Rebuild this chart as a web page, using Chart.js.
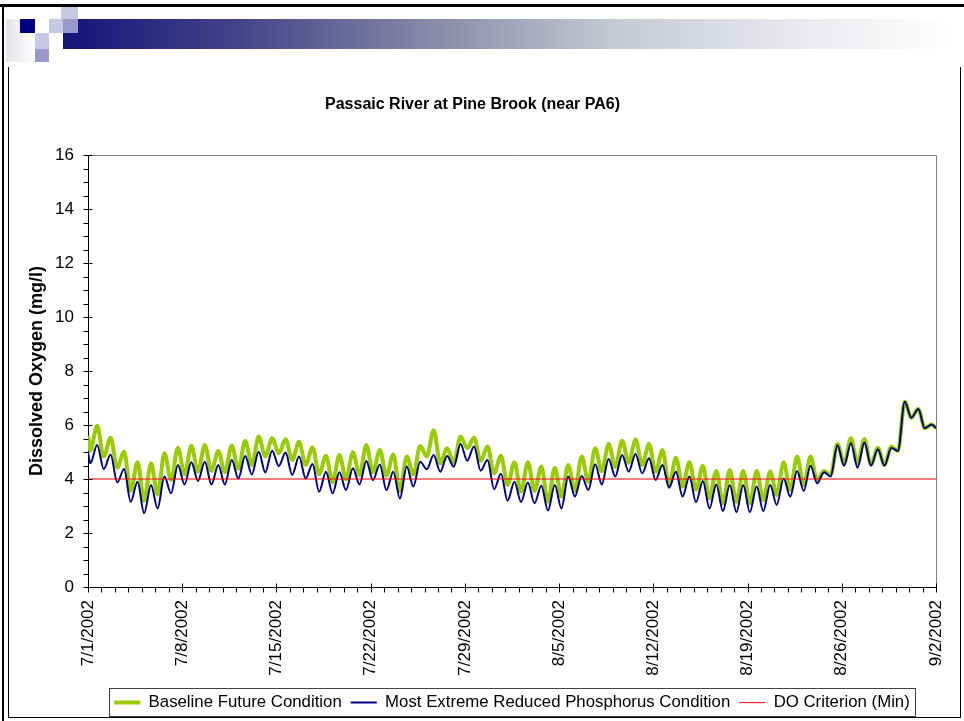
<!DOCTYPE html>
<html>
<head>
<meta charset="utf-8">
<script src="https://cdn.jsdelivr.net/npm/chart.js@4.4.0/dist/chart.umd.min.js"></script>
<style>
  html, body { margin: 0; padding: 0; background: #fff; overflow: hidden; }
  body { width: 964px; height: 721px; position: relative; font-family: "Liberation Sans", Arial, sans-serif; }
  .blk { position: absolute; background: #000; }
  .sq { position: absolute; }
  .bar {
    position: absolute; left: 63px; top: 19px; width: 887px; height: 30px;
    background: linear-gradient(to right, #14147a 0%, #44448a 20%, #8a8aa8 42%, #c5c9d3 62%, #e9e9ef 83%, #ffffff 100%);
  }
  .frame {
    position: absolute; left: 8px; top: 67px; width: 951px; height: 650px;
    border-left: 1px solid #000; border-right: 1px solid #000; border-bottom: 1px solid #000;
    pointer-events: none;
  }
  #wrap { position: absolute; left: 9px; top: 68px; width: 950px; height: 653px; }
</style>
</head>
<body>
<div class="blk" style="left:0;top:4px;width:964px;height:3px"></div>
<div class="blk" style="left:2px;top:4px;width:2px;height:717px"></div>
<div class="sq" style="left:6px;top:19px;width:29px;height:43px;background:linear-gradient(to right,#e2e2ea,#ffffff)"></div>
<div class="bar"></div>
<div class="sq" style="left:61px;top:7px;width:17px;height:12px;background:#c8c8e4"></div>
<div class="sq" style="left:20px;top:19px;width:15px;height:14px;background:#000080"></div>
<div class="sq" style="left:49px;top:19px;width:14px;height:14px;background:#c8c8e4"></div>
<div class="sq" style="left:63px;top:19px;width:15px;height:14px;background:#9999cc"></div>
<div class="sq" style="left:35px;top:33px;width:14px;height:16px;background:#c8c8e4"></div>
<div class="sq" style="left:35px;top:49px;width:14px;height:13px;background:#9999cc"></div>
<div id="wrap"><canvas id="grafico" width="950" height="653"></canvas></div>
<div class="frame"></div>
<script>
// days since 7/1/2002; each day has a morning low and an afternoon high
const totalDays = 63;
const lowTime = 0.17;
const highTime = 0.68;
const dateLabels = ["7/1/2002", "7/8/2002", "7/15/2002", "7/22/2002", "7/29/2002", "8/5/2002", "8/12/2002", "8/19/2002", "8/26/2002", "9/2/2002"];

const baseStart = 5.6;
const baseEnd = 5.88;
const baseLow = [5.05, 4.83, 4.42, 3.56, 3.19, 3.43, 3.96, 4.17, 4.27, 4.30, 4.25, 4.37, 4.52, 4.83, 4.95, 4.71, 4.52, 4.17, 3.88, 3.99, 4.15, 4.25, 4.12, 3.56, 4.17, 4.83, 4.58, 4.6, 5.14, 4.67, 4.21, 3.78, 3.53, 3.56, 3.16, 3.35, 3.56, 3.9, 4.28, 4.44, 4.6, 4.52, 4.27, 3.78, 3.72, 3.6, 3.28, 3.1, 3.16, 3.1, 3.22, 3.41, 3.6, 3.78, 3.96, 4.15, 4.58, 4.58, 4.54, 4.52, 5.04, 6.27, 5.88];
const baseHigh = [5.97, 5.53, 5.01, 4.62, 4.58, 4.95, 5.16, 5.23, 5.26, 5.04, 5.23, 5.41, 5.57, 5.51, 5.47, 5.38, 5.17, 4.86, 4.89, 4.99, 5.26, 5.07, 4.91, 4.83, 5.22, 5.81, 5.14, 5.57, 5.53, 5.2, 4.86, 4.62, 4.62, 4.46, 4.42, 4.52, 4.83, 5.14, 5.3, 5.42, 5.46, 5.3, 5.07, 4.79, 4.62, 4.49, 4.3, 4.33, 4.3, 4.3, 4.28, 4.62, 4.83, 4.83, 4.3, 5.3, 5.51, 5.48, 5.16, 5.2, 6.86, 6.59, 6.02];

const reducedStart = 5.0;
const reducedEnd = 5.88;
const reducedLow = [4.58, 4.37, 3.87, 3.16, 2.73, 2.91, 3.47, 3.8, 3.93, 3.8, 3.8, 4.02, 4.17, 4.25, 4.48, 4.15, 4.02, 3.53, 3.47, 3.59, 3.8, 3.96, 3.59, 3.28, 3.72, 4.36, 4.27, 4.45, 4.68, 4.31, 3.62, 3.2, 3.15, 3.1, 2.83, 2.91, 3.35, 3.59, 3.8, 4.09, 4.27, 4.21, 3.96, 3.68, 3.35, 3.14, 2.91, 2.81, 2.77, 2.77, 2.81, 3.04, 3.35, 3.56, 3.84, 4.09, 4.49, 4.42, 4.5, 4.5, 5.04, 6.27, 5.88];
const reducedHigh = [5.26, 4.91, 4.37, 3.9, 3.78, 4.09, 4.52, 4.62, 4.64, 4.52, 4.7, 4.85, 5.01, 5.05, 4.98, 4.83, 4.56, 4.27, 4.25, 4.4, 4.67, 4.54, 4.27, 4.46, 4.64, 4.89, 4.85, 5.3, 5.2, 4.7, 4.19, 3.9, 3.87, 3.75, 3.78, 4.09, 4.11, 4.55, 4.74, 4.89, 4.93, 4.77, 4.52, 4.27, 4.09, 3.93, 3.8, 3.78, 3.78, 3.72, 3.78, 4.02, 4.3, 4.49, 4.25, 5.25, 5.32, 5.35, 5.1, 5.15, 6.86, 6.59, 6.02];

const criterionDays = [0, 63];
const criterionValues = [4, 4];

const yMax = 16;
const yStep = 2;
const yMinor = 0.5;
const xStep = 7;

const fonte = "'Liberation Sans', Arial, sans-serif";

function series(start, lows, highs, end) {
  const points = [{ x: 0, y: start }];
  lows.forEach((v, i) => {
    points.push({ x: i + lowTime, y: v });
    points.push({ x: i + highTime, y: highs[i] });
  });
  points.push({ x: totalDays, y: end });
  return points;
}

// excel-like tick marks and gray plot frame
const axisTicks = {
  id: "axisTicks",
  afterDraw(chart) {
    const { ctx, chartArea, scales } = chart;
    const x = scales.x;
    const y = scales.y;
    const left = Math.round(chartArea.left) + 0.5;
    const bottom = Math.round(chartArea.bottom) + 0.5;
    ctx.save();
    ctx.lineWidth = 1;
    ctx.strokeStyle = "#808080";
    ctx.beginPath();
    ctx.moveTo(left, Math.round(chartArea.top) + 0.5);
    ctx.lineTo(Math.round(chartArea.right) + 0.5, Math.round(chartArea.top) + 0.5);
    ctx.lineTo(Math.round(chartArea.right) + 0.5, bottom);
    ctx.stroke();

    ctx.strokeStyle = "#000";
    ctx.beginPath();
    for (let v = 0; v <= yMax; v += yMinor) {
      const py = Math.round(y.getPixelForValue(v)) + 0.5;
      const major = v % yStep === 0;
      ctx.moveTo(left - 5, py);
      ctx.lineTo(left + (major ? 4 : 0), py);
    }
    for (let d = 0; d <= totalDays; d++) {
      const px = Math.round(x.getPixelForValue(d)) + 0.5;
      const major = d % xStep === 0;
      ctx.moveTo(px, bottom - (major ? 4 : 0));
      ctx.lineTo(px, bottom + 5);
    }
    ctx.stroke();
    ctx.restore();
  }
};

const legendBox = {
  id: "legendBox",
  afterDraw(chart) {
    const boxes = chart.legend.legendHitBoxes;
    if (!boxes.length) return;
    const first = boxes[0];
    const last = boxes[boxes.length - 1];
    const left = Math.round(first.left - 5) + 0.5;
    const right = Math.round(last.left + last.width + 5) + 0.5;
    const top = Math.round(first.top - 6) + 0.5;
    const bottom = Math.round(first.top + first.height + 5) + 0.5;
    const ctx = chart.ctx;
    ctx.save();
    ctx.strokeStyle = "#404040";
    ctx.lineWidth = 1;
    ctx.strokeRect(left, top, right - left, bottom - top);
    ctx.restore();
  }
};

new Chart(document.getElementById("grafico"), {
  type: "line",
  data: {
    datasets: [
      {
        label: "Baseline Future Condition",
        data: series(baseStart, baseLow, baseHigh, baseEnd),
        borderColor: "#99cc00",
        backgroundColor: "#99cc00",
        borderWidth: 4,
        pointRadius: 0,
        cubicInterpolationMode: "monotone",
        order: 3
      },
      {
        label: "Most Extreme Reduced Phosphorus Condition",
        data: series(reducedStart, reducedLow, reducedHigh, reducedEnd),
        borderColor: "#000080",
        backgroundColor: "#000080",
        borderWidth: 2,
        pointRadius: 0,
        cubicInterpolationMode: "monotone",
        order: 2
      },
      {
        label: "DO Criterion (Min)",
        data: criterionDays.map((d, i) => ({ x: d, y: criterionValues[i] })),
        borderColor: "#ff0000",
        backgroundColor: "#ff0000",
        borderWidth: 1,
        pointRadius: 0,
        order: 1
      }
    ]
  },
  options: {
    responsive: false,
    animation: false,
    devicePixelRatio: 1,
    layout: {
      padding: { left: 0, right: 23, top: 0, bottom: 0 }
    },
    plugins: {
      tooltip: { enabled: false },
      title: {
        display: true,
        text: "Passaic River at Pine Brook (near PA6)",
        color: "#000",
        font: { family: fonte, size: 16, weight: "bold" },
        padding: { top: 27.4, bottom: 40.4 }
      },
      legend: {
        position: "bottom",
        fullSize: false,
        labels: {
          color: "#000",
          font: { family: fonte, size: 16.8 },
          usePointStyle: true,
          pointStyle: "line",
          pointStyleWidth: 26,
          boxWidth: 26,
          padding: 9,
          sort: (a, b) => a.datasetIndex - b.datasetIndex
        }
      }
    },
    scales: {
      x: {
        type: "linear",
        min: 0,
        max: totalDays,
        afterFit(scale) {
          scale.height = 98.2;
          scale.paddingLeft = 0;
          scale.paddingRight = 0;
        },
        grid: { display: false, drawTicks: false },
        border: { color: "#000", width: 1 },
        ticks: {
          stepSize: xStep,
          autoSkip: false,
          minRotation: 90,
          maxRotation: 90,
          padding: 13,
          color: "#000",
          font: { family: fonte, size: 17 },
          callback: v => dateLabels[v / xStep]
        }
      },
      y: {
        min: 0,
        max: yMax,
        afterFit(scale) { scale.width = 79; },
        grid: { display: false, drawTicks: false },
        border: { color: "#000", width: 1 },
        ticks: {
          stepSize: yStep,
          padding: 14,
          color: "#000",
          font: { family: fonte, size: 17 }
        },
        title: {
          display: true,
          text: "Dissolved Oxygen (mg/l)",
          color: "#000",
          font: { family: fonte, size: 18, weight: "bold" },
          padding: { top: 17, bottom: 0 }
        }
      }
    }
  },
  plugins: [axisTicks, legendBox]
});
</script>
</body>
</html>
